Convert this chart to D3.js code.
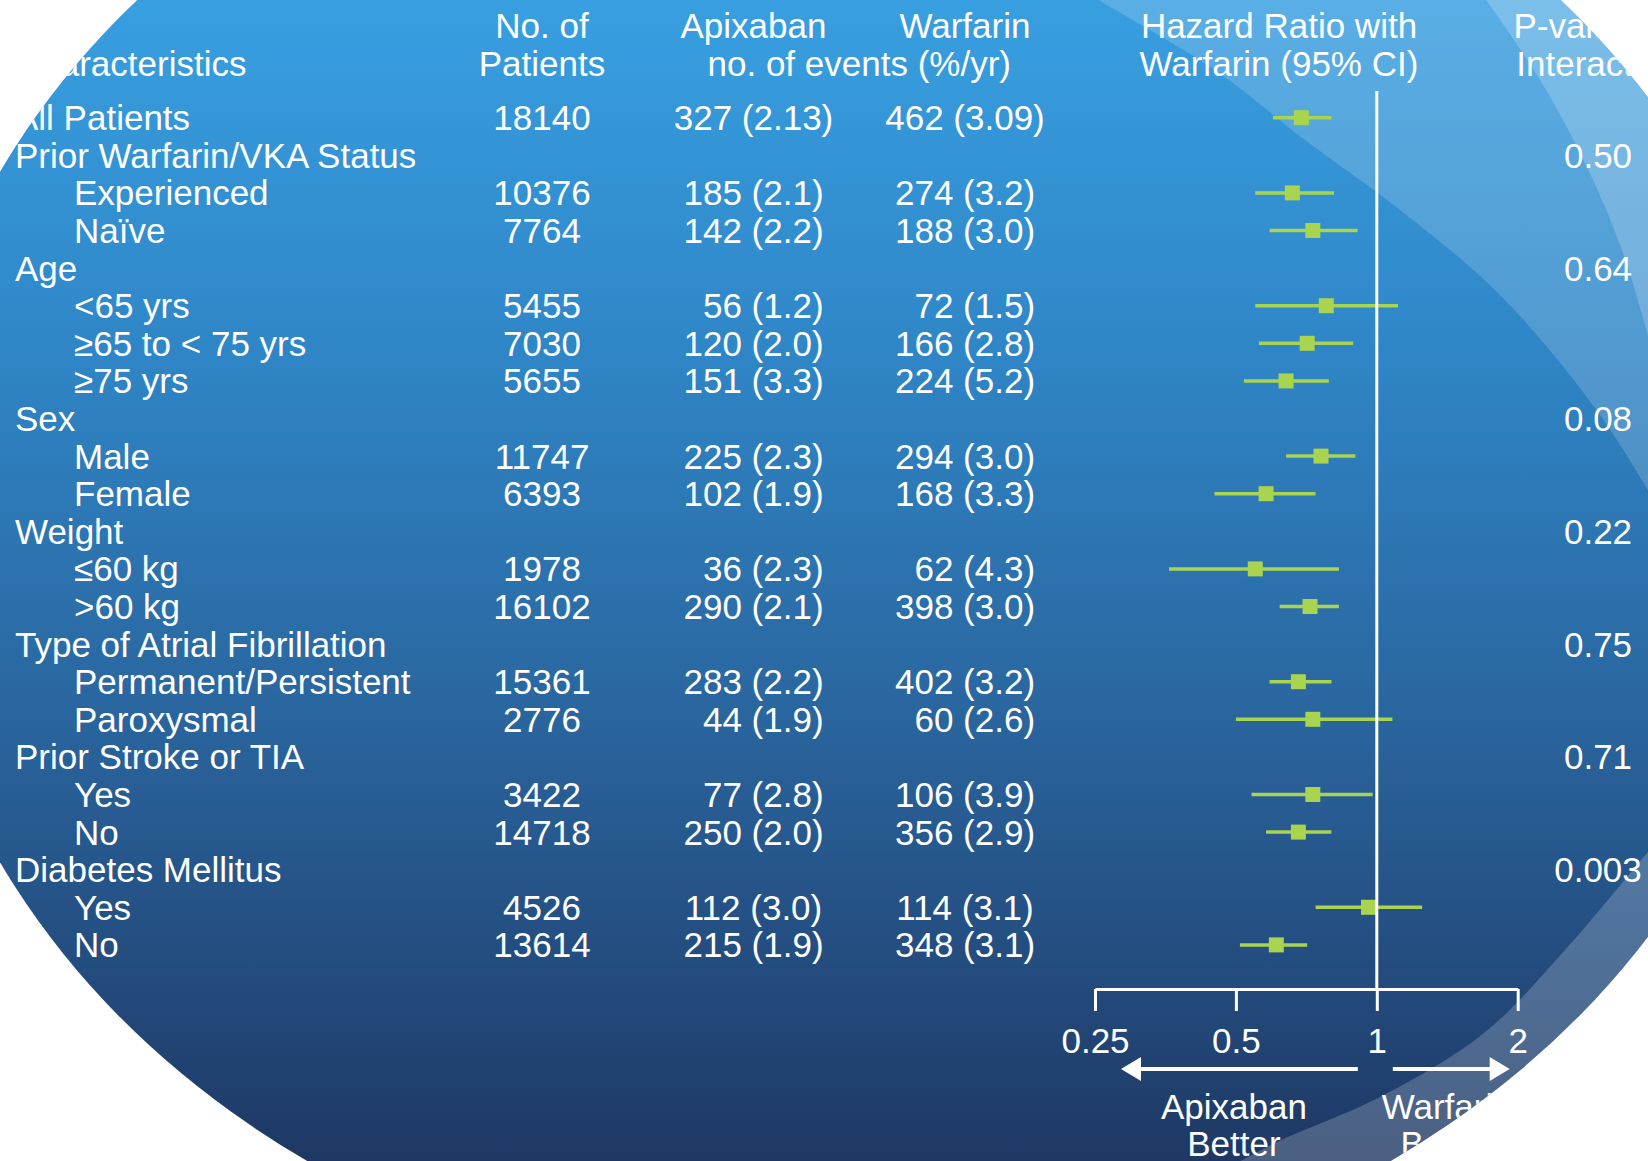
<!DOCTYPE html>
<html>
<head>
<meta charset="utf-8">
<script src="https://cdn.jsdelivr.net/npm/d3@7"></script>
<style>
  html, body { margin: 0; padding: 0; background: #ffffff; }
  svg { display: block; }
  text { font-family: "Liberation Sans", Arial, Helvetica, sans-serif; fill: #ffffff; }
</style>
</head>
<body>
<svg id="chart"></svg>
<script>
// ---- Subgroup table: stroke or systemic embolism, apixaban vs warfarin ----
const rowLabels = [
  "All Patients", "Prior Warfarin/VKA Status", "Experienced", "Naïve",
  "Age", "<65 yrs", "≥65 to < 75 yrs", "≥75 yrs",
  "Sex", "Male", "Female",
  "Weight", "≤60 kg", ">60 kg",
  "Type of Atrial Fibrillation", "Permanent/Persistent", "Paroxysmal",
  "Prior Stroke or TIA", "Yes", "No",
  "Diabetes Mellitus", "Yes", "No"
];
// 0 = group heading, 1 = indented subgroup
const rowLevel = [0,0,1,1, 0,1,1,1, 0,1,1, 0,1,1, 0,1,1, 0,1,1, 0,1,1];

const patients = ["18140", "", "10376", "7764", "", "5455", "7030", "5655", "",
  "11747", "6393", "", "1978", "16102", "", "15361", "2776", "", "3422", "14718",
  "", "4526", "13614"];

const apixabanEvents = ["327", "", "185", "142", "", "56", "120", "151", "",
  "225", "102", "", "36", "290", "", "283", "44", "", "77", "250", "", "112", "215"];
const apixabanRate = ["2.13", "", "2.1", "2.2", "", "1.2", "2.0", "3.3", "",
  "2.3", "1.9", "", "2.3", "2.1", "", "2.2", "1.9", "", "2.8", "2.0", "", "3.0", "1.9"];

const warfarinEvents = ["462", "", "274", "188", "", "72", "166", "224", "",
  "294", "168", "", "62", "398", "", "402", "60", "", "106", "356", "", "114", "348"];
const warfarinRate = ["3.09", "", "3.2", "3.0", "", "1.5", "2.8", "5.2", "",
  "3.0", "3.3", "", "4.3", "3.0", "", "3.2", "2.6", "", "3.9", "2.9", "", "3.1", "3.1"];

// Hazard ratio with 95% CI (null on heading rows)
const hazardRatio = [0.69, null, 0.66, 0.73, null, 0.78, 0.71, 0.64, null,
  0.76, 0.58, null, 0.55, 0.72, null, 0.68, 0.73, null, 0.73, 0.68, null, 0.96, 0.61];
const ciLower = [0.60, null, 0.55, 0.59, null, 0.55, 0.56, 0.52, null,
  0.64, 0.45, null, 0.36, 0.62, null, 0.59, 0.50, null, 0.54, 0.58, null, 0.74, 0.51];
const ciUpper = [0.80, null, 0.81, 0.91, null, 1.11, 0.89, 0.79, null,
  0.90, 0.74, null, 0.83, 0.83, null, 0.80, 1.08, null, 0.98, 0.80, null, 1.25, 0.71];

const pInteraction = ["", "0.50", "", "", "0.64", "", "", "", "0.08", "", "",
  "0.22", "", "", "0.75", "", "", "0.71", "", "", "0.003", "", ""];

const hrTicks = [0.25, 0.5, 1, 2];

// ---- Layout ----
const W = 1648, H = 1161;
const FONT = 35;
const GREEN = "#a8d44f";

const svg = d3.select("#chart").attr("width", W).attr("height", H);
const defs = svg.append("defs");

const grad = defs.append("linearGradient")
  .attr("id", "bgGrad").attr("gradientUnits", "userSpaceOnUse")
  .attr("x1", 0).attr("y1", 0).attr("x2", 0).attr("y2", H);
[[0, "#389fe0"], [0.3, "#2f86c7"], [0.6, "#2a67a0"], [0.85, "#234a7c"], [1, "#1e3863"]]
  .forEach(([o, c]) => grad.append("stop").attr("offset", o).attr("stop-color", c));

// Large oval backdrop; everything is drawn inside it
defs.append("clipPath").attr("id", "oval")
  .append("ellipse").attr("cx", 849).attr("cy", 517).attr("rx", 945).attr("ry", 786);

svg.append("rect").attr("width", W).attr("height", H).attr("fill", "#ffffff");
const g = svg.append("g").attr("clip-path", "url(#oval)");
g.append("rect").attr("width", W).attr("height", H).attr("fill", "url(#bgGrad)");

// Translucent swoosh bands on the right side of the oval
const curve = d3.line().curve(d3.curveCatmullRom.alpha(0.5));
function band(points, closing, opacity) {
  g.append("path")
    .attr("d", curve(points) + closing.map(p => "L" + p[0] + "," + p[1]).join("") + "Z")
    .attr("fill", "#ffffff").attr("fill-opacity", opacity);
}
band([[1085, -10], [1099, 0], [1215, 70], [1305, 140], [1400, 210], [1500, 295], [1600, 415], [1680, 545]],
     [[1720, 545], [1720, -20]], 0.17);
band([[1478, -10], [1486, 0], [1540, 80], [1587, 167], [1622, 250], [1648, 335], [1665, 390]],
     [[1720, 390], [1720, -20]], 0.2);
band([[1680, 815], [1648, 852], [1565, 950], [1484, 1033], [1380, 1097], [1275, 1143], [1215, 1175]],
     [[1720, 1200], [1720, 815]], 0.2);

// ---- Scales ----
const y = d3.scaleLinear().domain([0, rowLabels.length - 1]).range([117.7, 117.7 + 37.6 * (rowLabels.length - 1)]);
const x = d3.scaleLog().base(2).domain([0.25, 2]).range([1095, 1517.7]);
const baselineShift = 12.4;

const colPatients = 542, colApix = 753.5, colWarf = 965, colP = 1598;
const labelX = [15, 74];

// ---- Column headers ----
const headerY1 = 38, headerY2 = 75.5;
const headers = [
  { t: "Characteristics", x: labelX[0], y: headerY2, a: "start" },
  { t: "No. of", x: colPatients, y: headerY1, a: "middle" },
  { t: "Patients", x: colPatients, y: headerY2, a: "middle" },
  { t: "Apixaban", x: colApix, y: headerY1, a: "middle" },
  { t: "Warfarin", x: colWarf, y: headerY1, a: "middle" },
  { t: "no. of events (%/yr)", x: (colApix + colWarf) / 2, y: headerY2, a: "middle" },
  { t: "Hazard Ratio with", x: 1279, y: headerY1, a: "middle" },
  { t: "Warfarin (95% CI)", x: 1279, y: headerY2, a: "middle" },
  { t: "P-value for", x: colP, y: headerY1, a: "middle" },
  { t: "Interaction", x: colP, y: headerY2, a: "middle" }
];
g.append("g").selectAll("text").data(headers).join("text")
  .attr("x", d => d.x).attr("y", d => d.y).attr("text-anchor", d => d.a)
  .attr("font-size", FONT).text(d => d.t);

// ---- Table rows ----
const rows = g.append("g").selectAll("g.row").data(rowLabels.map((lab, i) => i)).join("g").attr("class", "row");

rows.append("text")
  .attr("x", i => labelX[rowLevel[i]]).attr("y", i => y(i) + baselineShift)
  .attr("font-size", FONT).text(i => rowLabels[i]);

rows.filter(i => patients[i]).append("text")
  .attr("x", colPatients).attr("y", i => y(i) + baselineShift)
  .attr("text-anchor", "middle").attr("font-size", FONT).text(i => patients[i]);

// Event counts are centred as if padded to three digits
function eventCell(sel, counts, rates, cx) {
  sel.filter(i => counts[i]).append("text")
    .attr("y", i => y(i) + baselineShift)
    .attr("font-size", FONT)
    .text(i => counts[i] + " (" + rates[i] + ")")
    .each(function (i) {
      const w = this.getComputedTextLength();
      const digit = this.getSubStringLength(0, 1);
      const pad = Math.max(0, 3 - counts[i].length);
      d3.select(this).attr("x", cx - w / 2 + pad * digit / 2);
    });
}
eventCell(rows, apixabanEvents, apixabanRate, colApix);
eventCell(rows, warfarinEvents, warfarinRate, colWarf);

rows.filter(i => pInteraction[i]).append("text")
  .attr("x", colP).attr("y", i => y(i) + baselineShift)
  .attr("text-anchor", "middle").attr("font-size", FONT).text(i => pInteraction[i]);

// ---- Forest plot ----
const axisY = 989;
g.append("line")
  .attr("x1", x(1)).attr("x2", x(1)).attr("y1", 91).attr("y2", axisY)
  .attr("stroke", "#ffffff").attr("stroke-width", 3);

const est = rows.filter(i => hazardRatio[i] !== null);
est.append("line")
  .attr("x1", i => x(ciLower[i])).attr("x2", i => x(ciUpper[i]))
  .attr("y1", i => y(i)).attr("y2", i => y(i))
  .attr("stroke", GREEN).attr("stroke-width", 3.5);
const box = 15;
est.append("rect")
  .attr("x", i => x(hazardRatio[i]) - box / 2).attr("y", i => y(i) - box / 2)
  .attr("width", box).attr("height", box).attr("fill", GREEN);

const axis = d3.axisBottom(x).tickValues(hrTicks).tickFormat(d => String(d))
  .tickSizeInner(22).tickSizeOuter(0).tickPadding(17.5);
const axG = g.append("g").attr("transform", `translate(0,${axisY})`).call(axis);
axG.select(".domain").attr("stroke", "#ffffff").attr("stroke-width", 3);
axG.selectAll(".tick line").attr("stroke", "#ffffff").attr("stroke-width", 3);
axG.selectAll(".tick text").attr("fill", "#ffffff").attr("font-size", FONT)
  .attr("font-family", "Liberation Sans, Arial, Helvetica, sans-serif");

// Direction arrows
const arrowY = 1069;
function arrow(from, to) {
  const dir = Math.sign(to - from), head = 20, half = 12;
  g.append("line").attr("x1", from).attr("x2", to - dir * head + dir * 2)
    .attr("y1", arrowY).attr("y2", arrowY).attr("stroke", "#ffffff").attr("stroke-width", 4);
  g.append("path")
    .attr("d", `M${to},${arrowY}L${to - dir * head},${arrowY - half}L${to - dir * head},${arrowY + half}Z`)
    .attr("fill", "#ffffff");
}
arrow(x(1) - 19, x(0.25) + 26);
arrow(x(1) + 16, x(2) - 8);

const favour = [
  { lines: ["Apixaban", "Better"], cx: x(0.5) - 2 },
  { lines: ["Warfarin", "Better"], cx: x(Math.SQRT2) }
];
favour.forEach(f => {
  f.lines.forEach((t, k) => {
    g.append("text").attr("x", f.cx).attr("y", 1119 + k * 37)
      .attr("text-anchor", "middle").attr("font-size", FONT).text(t);
  });
});
</script>
</body>
</html>
